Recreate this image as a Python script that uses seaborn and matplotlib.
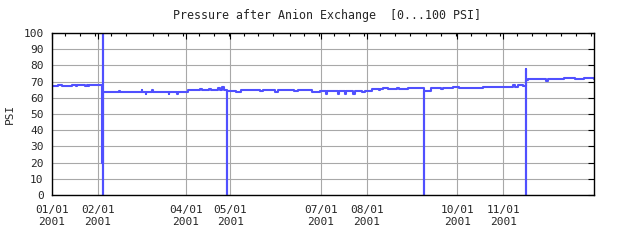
import matplotlib
matplotlib.use("Agg")
import matplotlib.pyplot as plt
import matplotlib.dates as mdates
import seaborn as sns
import pandas as pd

# ---- data (day offset from 2001-01-01, pressure in PSI) ----
days = [0, 4, 6.5, 13.5, 16, 16.5, 22, 23.5, 24.2, 25, 33.4,
        34.3, 34.35, 34.45,
        45, 46, 60.3, 60.8, 63, 63.5, 67.6, 68.2, 78.5, 79, 84.5, 85,
        91.4, 100, 101, 106, 107, 112, 113, 114.5, 115.5,
        118.1, 118.15,
        124, 127, 140, 142, 150, 152, 163, 166, 175, 180.6,
        184.5, 185, 192.5, 193.2, 197, 197.8, 203, 203.8, 209, 211,
        215.4, 220, 221, 223, 226, 232, 234, 240, 243,
        250.2, 250.25, 250.45,
        255, 262, 263.5, 270, 274, 280, 290, 300, 310.5, 312, 314, 317.3,
        318.9, 319.0, 319.1,
        320.5, 330, 333, 334, 345, 352, 358, 365]
psi = [67, 68, 67, 68, 67.3, 68, 67, 68, 67, 68, 20,
       100, 0, 63.7,
       64.2, 63.7, 65, 63.7, 62.5, 63.7, 65, 63.7, 62.5, 63.7, 62.5, 63.7,
       64.7, 65.3, 64.7, 65.3, 64.7, 66, 64.7, 66.5, 64.7,
       0, 64.5,
       63.8, 64.6, 64.0, 64.8, 63.8, 64.8, 64.0, 64.6, 63.3, 64.5,
       62.5, 64, 62.5, 64, 62.5, 64, 62.5, 64, 63.3, 64,
       65.6, 64.8, 65.6, 66.3, 65.6, 66.3, 65.6, 66.3, 65.8,
       0, 31, 64.3,
       66, 65.2, 66, 66.5, 66, 66.3, 66.8, 66.5, 68, 66.8, 68, 67,
       77.7, 0, 70.7,
       71.3, 71.6, 70.3, 71.6, 72, 71.6, 72, 71.8]

tick_dates = ["2001-01-01", "2001-02-01", "2001-04-01", "2001-05-01",
              "2001-07-01", "2001-08-01", "2001-10-01", "2001-11-01"]
tick_labels = ["01/01\n2001", "02/01\n2001", "04/01\n2001", "05/01\n2001",
               "07/01\n2001", "08/01\n2001", "10/01\n2001", "11/01\n2001"]
y_ticks = [0, 10, 20, 30, 40, 50, 60, 70, 80, 90, 100]

title = "Pressure after Anion Exchange  [0...100 PSI]"
ylabel = "PSI"

# ---- figure ----
sns.set_style("white")
plt.rcParams['font.family'] = ['DejaVu Sans Mono']

fig = plt.figure(figsize=(6.4, 2.4), dpi=100)
ax = fig.add_axes([52 / 640, 1 - 195 / 240, 542 / 640, 162 / 240])

df = pd.DataFrame({
    "time": pd.Timestamp("2001-01-01") + pd.to_timedelta(days, unit="D"),
    "psi": psi,
})
sns.lineplot(data=df, x="time", y="psi", estimator=None, sort=False,
             drawstyle="steps-post", color="#5050ff", linewidth=1.5, ax=ax)

ax.set_xlim(pd.Timestamp("2001-01-01"), pd.Timestamp("2002-01-01"))
ax.set_ylim(0, 100)
ax.set_yticks(y_ticks)
ax.set_yticklabels([str(v) for v in y_ticks], fontsize=8)
ax.set_xticks(pd.to_datetime(tick_dates))
ax.set_xticklabels(tick_labels, fontsize=8, linespacing=1.3)
ax.xaxis.set_minor_locator(mdates.DayLocator(bymonthday=[10, 20, 30]))

ax.set_axisbelow(True)
ax.grid(True, which="major", color="#a8a8a8", linewidth=0.8)
ax.tick_params(axis="both", which="both", direction="in", top=True, right=True,
               color="black", width=0.8)
ax.tick_params(axis="both", which="major", length=4)
ax.tick_params(axis="both", which="minor", length=2.5)
ax.tick_params(axis="x", which="major", pad=7)
ax.tick_params(axis="y", which="major", pad=6)
for s in ax.spines.values():
    s.set_color("black")
    s.set_linewidth(1.0)

ax.set_xlabel("")
ax.set_ylabel(ylabel, fontsize=8)
ax.yaxis.set_label_coords(-0.068, 0.5)

fig.text(327 / 640, 1 - 16 / 240, title, ha="center", va="center", fontsize=8.4)

fig.savefig("out.png", dpi=100, facecolor="white")
